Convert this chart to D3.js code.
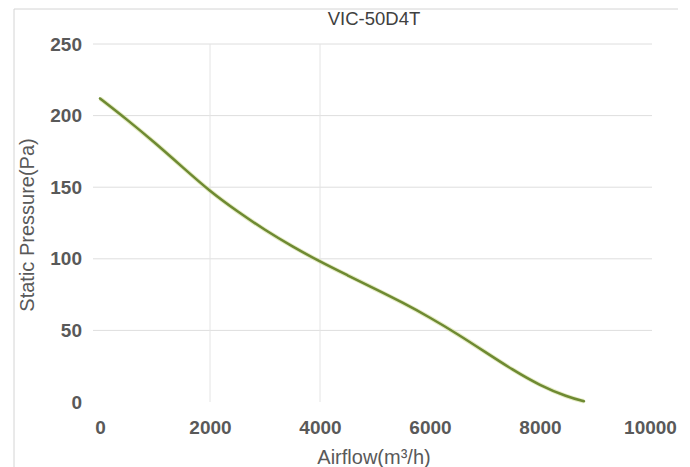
<!DOCTYPE html>
<html>
<head>
<meta charset="utf-8">
<script src="https://cdn.jsdelivr.net/npm/d3@7"></script>
<style>
  body { margin: 0; background: #fff; }
  svg { display: block; font-family: "Liberation Sans", Arial, sans-serif; }
</style>
</head>
<body>
<div id="container"></div>
<script>
  /* CONSTANTS AND GLOBALS */
  const width = 690,
        height = 467,
        margin = {top: 44, bottom: 65, left: 100, right: 40};

  // chart data
  const chartTitle = "VIC-50D4T";
  const airflow  = [0, 500, 1000, 1500, 2000, 2500, 3000, 3500, 4000, 4500, 5000, 5500, 6000, 6500, 7000, 7500, 8000, 8500, 8800];
  const pressure = [212, 197, 181, 164, 147, 133, 120, 108.5, 98, 88.5, 79, 69.5, 59, 47.5, 35, 22.5, 11.5, 3.5, 0.5];
  const xTicks = [0, 2000, 4000, 6000, 8000, 10000];
  const yTicks = [0, 50, 100, 150, 200, 250];
  const xGrid = [2000, 4000];

  const data = airflow.map((a, i) => ({airflow: a, pressure: pressure[i]}));

  const svg = d3.select("#container")
    .append("svg")
      .attr("width", width)
      .attr("height", height);

  // + SCALES
  const xScale = d3.scaleLinear()
    .domain([0, 10000])
    .range([margin.left, width - margin.right]);

  const yScale = d3.scaleLinear()
    .domain([0, 250])
    .range([height - margin.bottom, margin.top]);

  // chart border (top + left edges visible)
  svg.append("line")
    .attr("x1", 14).attr("x2", 678).attr("y1", 9).attr("y2", 9)
    .attr("stroke", "#d4d4d4");
  svg.append("line")
    .attr("x1", 14).attr("x2", 14).attr("y1", 9).attr("y2", height)
    .attr("stroke", "#d4d4d4");

  // + GRID
  svg.append("g")
    .selectAll("line")
    .data(yTicks.filter(d => d > 0))
    .join("line")
      .attr("x1", xScale(0) - 7)
      .attr("x2", xScale(10000) + 2)
      .attr("y1", d => yScale(d))
      .attr("y2", d => yScale(d))
      .attr("stroke", "#dedede");

  svg.append("g")
    .selectAll("line")
    .data(xGrid)
    .join("line")
      .attr("x1", d => xScale(d))
      .attr("x2", d => xScale(d))
      .attr("y1", yScale(250))
      .attr("y2", yScale(0))
      .attr("stroke", "#e4e4e4");

  // + AXES (labels only, no domain/ticks)
  const xAxis = d3.axisBottom(xScale).tickValues(xTicks).tickSize(0).tickPadding(0).tickFormat(d3.format("d"));
  const yAxis = d3.axisLeft(yScale).tickValues(yTicks).tickSize(0).tickPadding(0);

  svg.append("g")
    .attr("transform", `translate(0,${yScale(0) + 18})`)
    .call(xAxis)
    .call(g => g.select(".domain").remove())
    .selectAll("text")
      .attr("fill", "#595959")
      .attr("font-size", "19px")
      .attr("font-weight", "bold")
      .attr("font-family", "Liberation Sans, Arial, sans-serif");

  svg.append("g")
    .attr("transform", `translate(${margin.left - 18},0)`)
    .call(yAxis)
    .call(g => g.select(".domain").remove())
    .selectAll("text")
      .attr("fill", "#595959")
      .attr("font-size", "19px")
      .attr("font-weight", "bold")
      .attr("font-family", "Liberation Sans, Arial, sans-serif");

  // + TITLE AND AXIS LABELS
  svg.append("text")
    .attr("x", (xScale(0) + xScale(10000)) / 2 - 1)
    .attr("y", 25)
    .attr("text-anchor", "middle")
    .attr("fill", "#404040")
    .attr("font-size", "18.5px")
    .text(chartTitle);

  svg.append("text")
    .attr("x", 374)
    .attr("y", 464)
    .attr("text-anchor", "middle")
    .attr("fill", "#595959")
    .attr("font-size", "20px")
    .text("Airflow(m³/h)");

  svg.append("text")
    .attr("transform", "translate(34,225) rotate(-90)")
    .attr("text-anchor", "middle")
    .attr("fill", "#595959")
    .attr("font-size", "20px")
    .text("Static Pressure(Pa)");

  // + CURVE
  const line = d3.line()
    .x(d => xScale(d.airflow))
    .y(d => yScale(d.pressure))
    .curve(d3.curveBasis);

  svg.append("path")
    .datum(data)
    .attr("fill", "none")
    .attr("stroke", "#d6e0a0")
    .attr("stroke-width", 4.5)
    .attr("stroke-opacity", 0.6)
    .attr("d", line);

  svg.append("path")
    .datum(data)
    .attr("fill", "none")
    .attr("stroke", "#6e8a32")
    .attr("stroke-width", 2.5)
    .attr("stroke-linecap", "round")
    .attr("d", line);
</script>
</body>
</html>
